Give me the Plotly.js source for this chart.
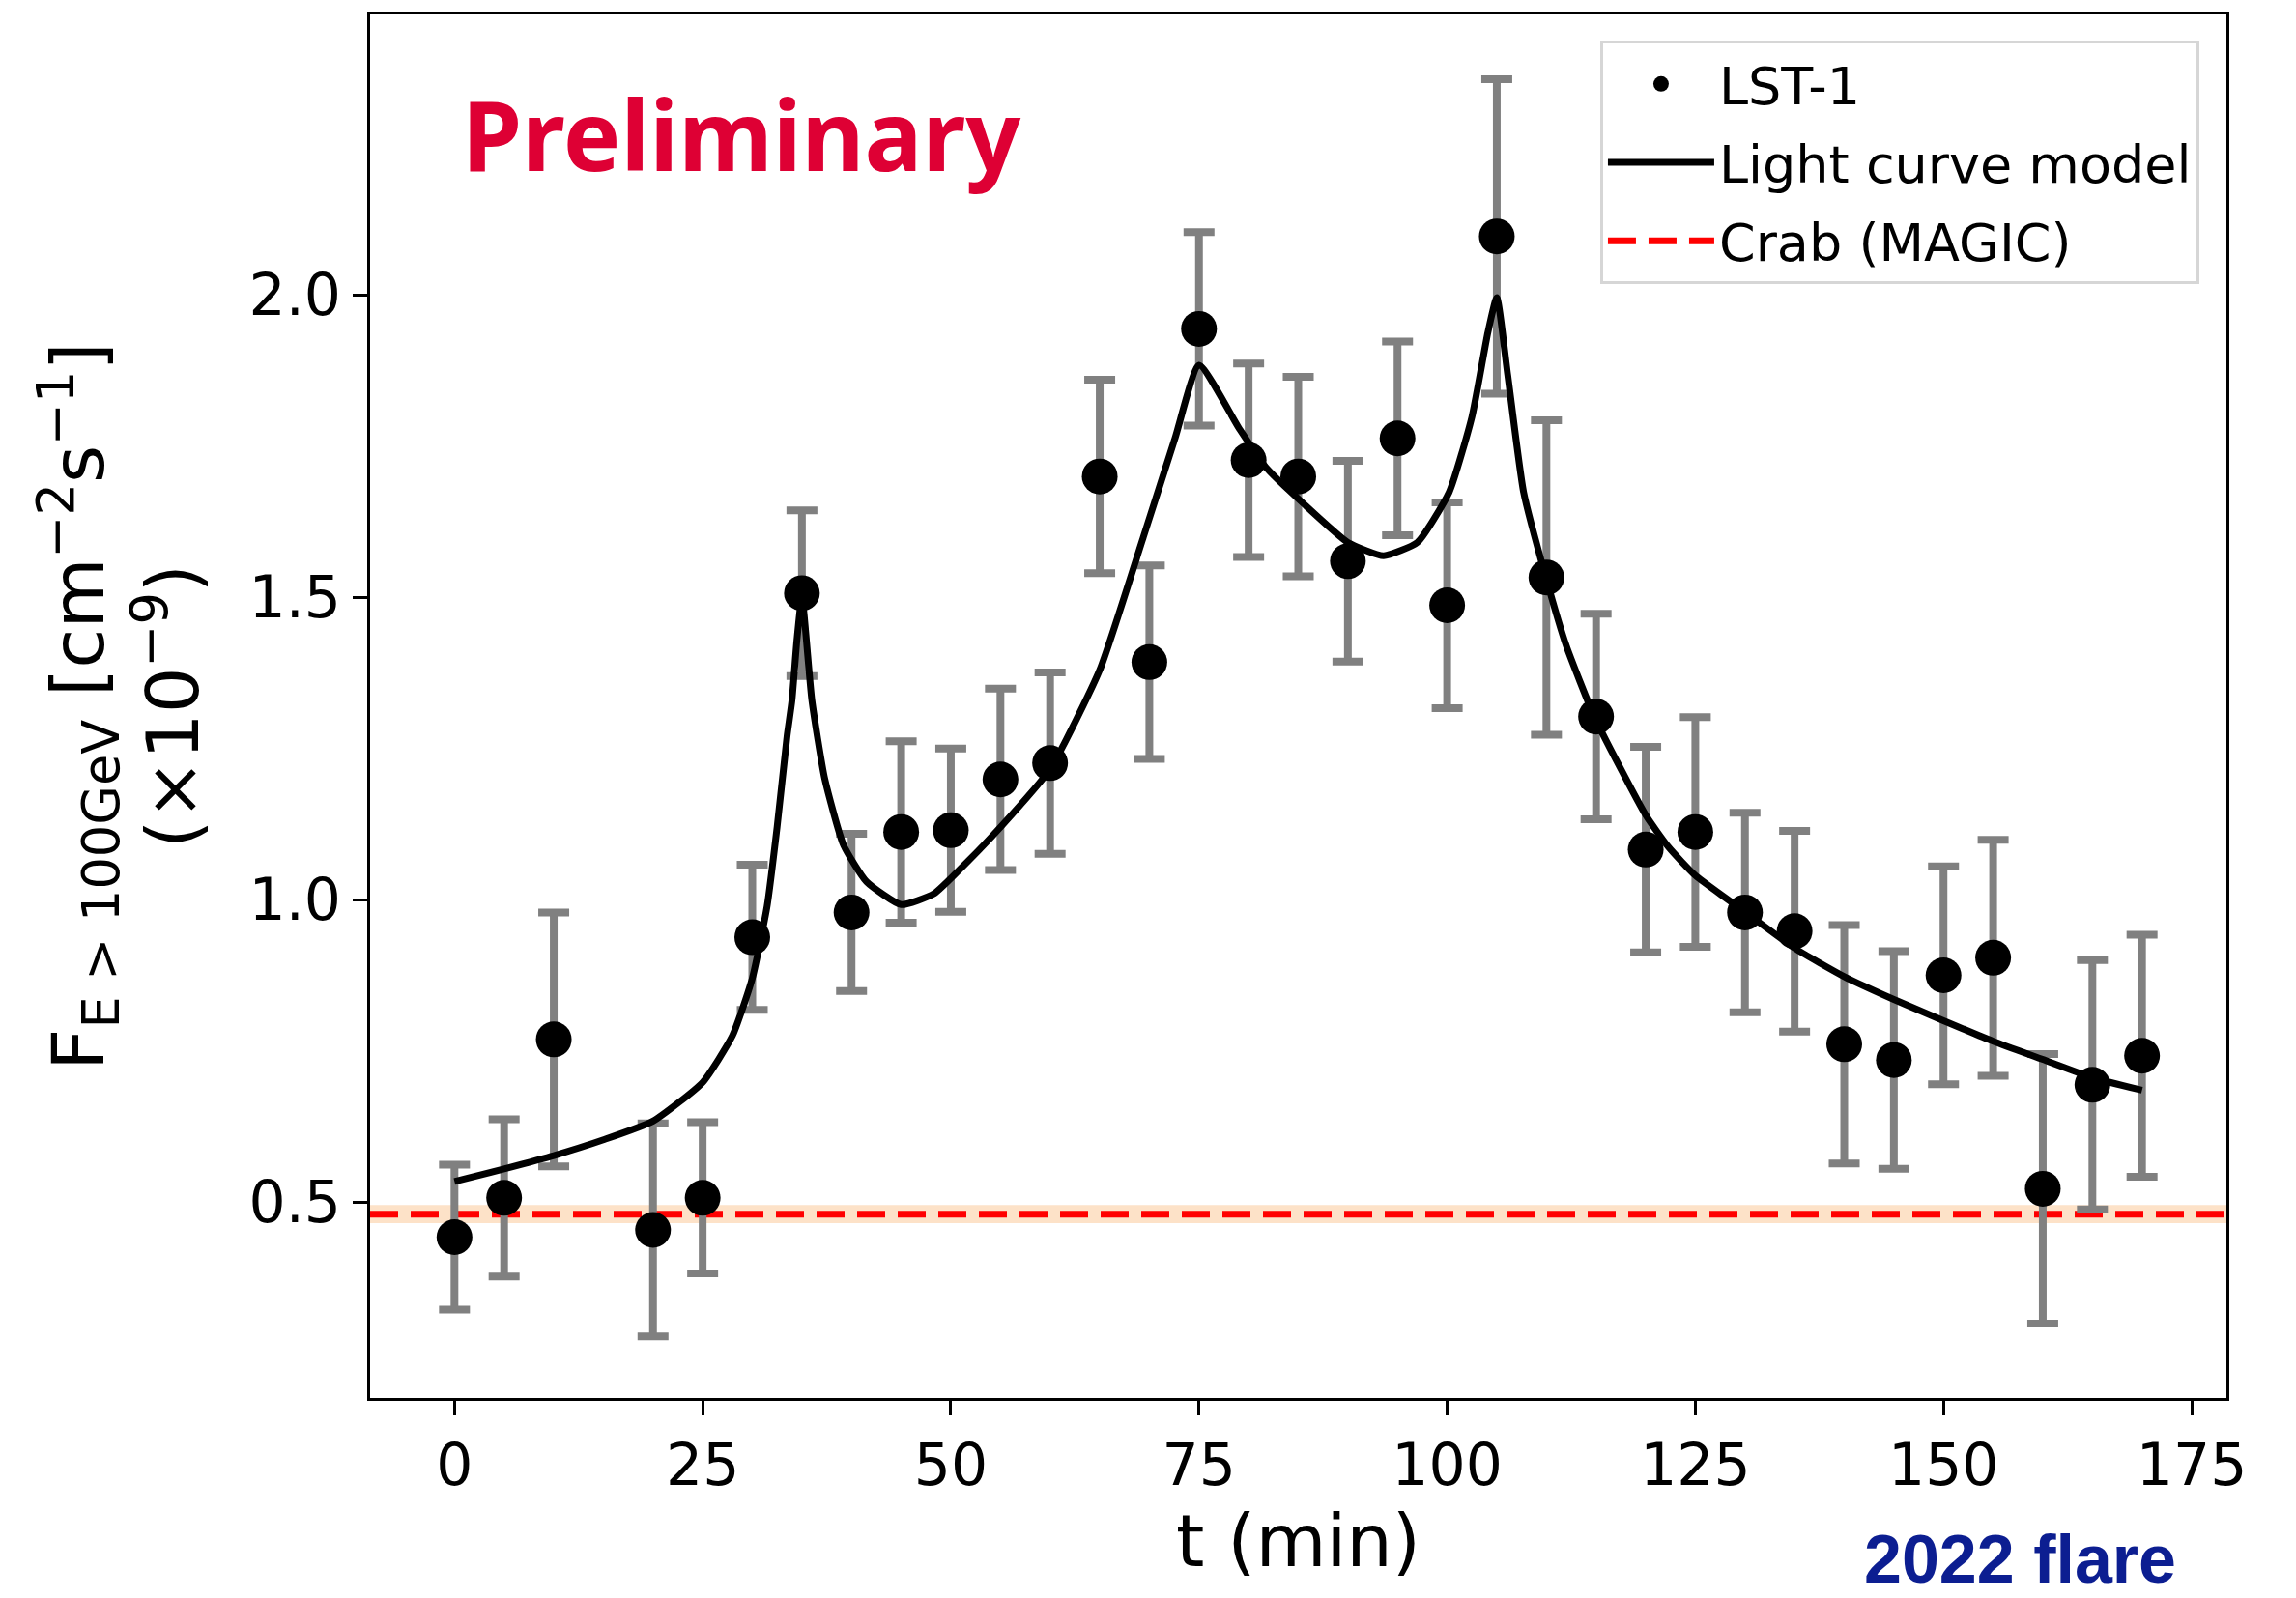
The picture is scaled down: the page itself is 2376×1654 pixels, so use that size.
<!DOCTYPE html>
<html><head><meta charset="utf-8">
<script src="https://cdn.plot.ly/plotly-3.0.1.min.js"></script>
<style>html,body{margin:0;padding:0;background:#fff;}#chart{width:2376px;height:1654px;}</style>
</head><body><div id="chart"></div>
<script>
// LST-1 light curve (flux above 100 GeV, units 1e-9 cm^-2 s^-1)
const timeMin = [0,5,10,20,25,30,35,40,45,50,55,60,65,70,75,80,85,90,95,100,105,110,115,120,125,130,135,140,145,150,155,160,165,170];
const fluxLST = [0.442,0.507,0.769,0.454,0.507,0.938,1.507,0.979,1.112,1.115,1.199,1.226,1.70,1.393,1.944,1.727,1.70,1.56,1.763,1.487,2.097,1.533,1.303,1.083,1.112,0.979,0.948,0.761,0.735,0.875,0.904,0.522,0.694,0.742];
const fluxErr = [0.12,0.13,0.21,0.176,0.125,0.12,0.137,0.13,0.15,0.135,0.15,0.15,0.16,0.16,0.16,0.16,0.165,0.166,0.16,0.17,0.26,0.26,0.17,0.17,0.19,0.165,0.166,0.197,0.18,0.18,0.195,0.223,0.206,0.2];

// Light curve model
const modelT = [0,5,10,15,20,25,28,30,31.5,32.5,33.5,34,34.5,35,36,37.3,39.2,41.5,45,48.3,51.5,55,60,65,69.4,72.6,75,79.1,81.7,85.6,90,93.6,97,100.2,102.5,104.1,105,106.1,107.7,110,112,114.9,120,122.3,125,130,135,140,145,150,155,160,165,170];
const modelF = [0.534,0.555,0.577,0.603,0.634,0.698,0.775,0.87,0.99,1.12,1.27,1.33,1.43,1.50,1.33,1.20,1.09,1.03,0.992,1.01,1.06,1.12,1.216,1.38,1.60,1.764,1.884,1.778,1.716,1.654,1.591,1.569,1.591,1.674,1.799,1.938,1.996,1.868,1.674,1.53,1.42,1.30,1.14,1.087,1.04,0.98,0.92,0.873,0.835,0.80,0.766,0.736,0.706,0.685];

// Crab reference flux (MAGIC)
const crabFlux = 0.48;
const crabErr = 0.015;

const xRange = [-8.5, 178.5];
const yRange = [0.176, 2.464];
const xTicks = [0,25,50,75,100,125,150,175];
const yTicks = [0.5,1.0,1.5,2.0];

const FONT = 'DejaVu Sans';

const traces = [
  {
    x: xRange, y: [crabFlux, crabFlux], mode: 'lines', name: 'Crab (MAGIC)',
    line: {color: '#ff0000', width: 7, dash: '29px,13px'}, legendrank: 3, legendgroup: 'c', hoverinfo: 'skip'
  },
  {
    x: timeMin, y: fluxLST, mode: 'markers', name: 'LST-1',
    marker: {color: '#000000', size: 37},
    error_y: {type: 'data', array: fluxErr, visible: true, color: '#808080', thickness: 8, width: 16},
    legendrank: 1, legendgroup: 'a'
  },
  {
    x: modelT, y: modelF, mode: 'lines', name: 'Light curve model',
    line: {color: '#000000', width: 7, shape: 'spline', smoothing: 0.5}, legendrank: 2, legendgroup: 'b'
  }
];

const axisCommon = {
  showline: true, mirror: true, linecolor: '#000', linewidth: 3,
  ticks: 'outside', ticklen: 15, tickwidth: 3, tickcolor: '#000',
  showgrid: false, zeroline: false,
  tickfont: {family: FONT, size: 60, color: '#000'}
};

const layout = {
  width: 2376, height: 1654,
  paper_bgcolor: '#fff', plot_bgcolor: '#fff',
  margin: {l: 383, r: 72, t: 15, b: 207},
  showlegend: true,
  legend: {
    x: 0.9854, xanchor: 'right', y: 0.981, yanchor: 'top',
    bgcolor: '#ffffff', bordercolor: '#d6d6d6', borderwidth: 3,
    font: {family: FONT, size: 54, color: '#000'},
    itemwidth: 110, traceorder: 'grouped', tracegroupgap: 8
  },
  xaxis: Object.assign({}, axisCommon, {
    range: xRange, tickvals: xTicks,
    title: {text: 't (min)', font: {family: FONT, size: 75, color: '#000'}, standoff: 18}
  }),
  yaxis: Object.assign({}, axisCommon, {
    range: yRange, tickvals: yTicks, tickformat: '.1f',
    title: {text: 'F<sub>E > 100GeV</sub> [cm<sup>−2</sup>s<sup>−1</sup>]<br>(×10<sup>−9</sup>)',
            font: {family: FONT, size: 75, color: '#000'}, standoff: 28}
  }),
  shapes: [
    {type: 'rect', xref: 'paper', yref: 'y', x0: 0, x1: 1,
     y0: crabFlux - crabErr, y1: crabFlux + crabErr,
     fillcolor: 'rgb(253,226,200)', line: {width: 0}, layer: 'below'}
  ],
  annotations: [
    {text: '<b>Preliminary</b>', xref: 'paper', yref: 'paper', x: 0.2004, y: 0.914,
     xanchor: 'center', yanchor: 'middle', showarrow: false,
     font: {family: 'Noto Sans', size: 100, color: 'rgb(222,0,52)'}},
    {text: '<b>2022 flare</b>', xref: 'paper', yref: 'paper', x: 0.804, y: -0.1165,
     xanchor: 'left', yanchor: 'middle', showarrow: false,
     font: {family: 'Liberation Sans', size: 70, color: 'rgb(12,30,145)'}}
  ]
};

Plotly.newPlot('chart', traces, layout, {displayModeBar: false, staticPlot: true});
</script>
</body></html>
